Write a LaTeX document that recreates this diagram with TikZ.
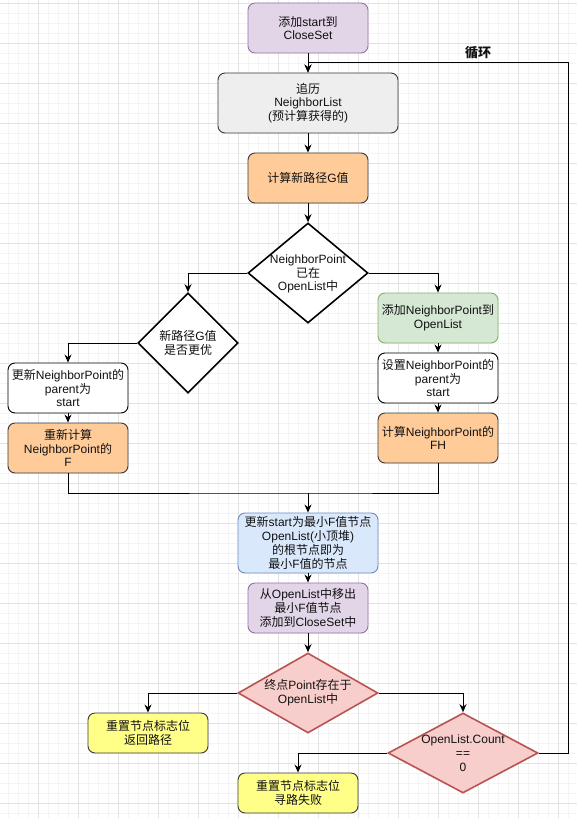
\documentclass[tikz,border=0pt]{standalone}
\usepackage{fontspec}
\setmainfont{Liberation Sans}
\newfontfamily\zh{Noto Sans CJK SC}
\usetikzlibrary{shapes.geometric,arrows.meta}
\newcommand{\z}[1]{{\zh #1}}
\definecolor{purF}{HTML}{E1D5E7}\definecolor{purS}{HTML}{9673A6}
\definecolor{grF}{HTML}{EEEEEE}\definecolor{darkS}{HTML}{36393D}
\definecolor{orF}{HTML}{FFCC99}
\definecolor{gnF}{HTML}{D5E8D4}\definecolor{gnS}{HTML}{82B366}
\definecolor{blF}{HTML}{DAE8FC}\definecolor{blS}{HTML}{6C8EBF}
\definecolor{rdF}{HTML}{F8CECC}\definecolor{rdS}{HTML}{B85450}
\definecolor{ylF}{HTML}{FFFF88}
\definecolor{gridMaj}{HTML}{E2E2E2}\definecolor{gridMin}{HTML}{F4F4F4}
\definecolor{txt}{HTML}{111111}
\begin{document}
\begin{tikzpicture}[x=1pt,y=-1pt,
  every node/.style={text=txt},
  tx/.style={align=center,font=\fontsize{12}{13.8}\selectfont,inner sep=0pt},
  box/.style={draw,rounded corners=7pt,minimum width=120pt,minimum height=50pt,inner sep=0pt,align=center,font=\fontsize{12}{13.8}\selectfont,line width=0.9pt},
  wbox/.style={box,fill=white,draw=black},
  purbox/.style={box,fill=purF,draw=purS},
  grbox/.style={box,fill=grF,draw=darkS},
  orbox/.style={box,fill=orF,draw=darkS},
  gnbox/.style={box,fill=gnF,draw=gnS},
  blbox/.style={box,fill=blF,draw=blS},
  ylbox/.style={box,fill=ylF,draw=darkS},
  dia/.style={diamond,draw=black,fill=white,inner sep=0pt,line width=1.6pt},
  rdia/.style={dia,fill=rdF,draw=rdS},
  conn/.style={line width=1pt,-{Stealth[length=8pt,width=7pt]}},
  plain/.style={line width=1pt}]
\useasboundingbox (0,0) rectangle (577,818);
\begin{scope}
\clip (0,0) rectangle (577,818);
\fill[white] (0,0) rectangle (577,818);
\foreach \i in {0,...,58} {
  \draw[gridMin,line width=0.8pt] (-1.7+10*\i,0) -- (-1.7+10*\i,818);
}
\foreach \i in {0,...,82} {
  \draw[gridMin,line width=0.8pt] (0,3.3+10*\i) -- (577,3.3+10*\i);
}
\foreach \i in {0,...,14} {
  \draw[gridMaj,line width=0.8pt] (-1.7+40*\i,0) -- (-1.7+40*\i,818);
}
\foreach \i in {0,...,20} {
  \draw[gridMaj,line width=0.8pt] (0,3.3+40*\i) -- (577,3.3+40*\i);
}
\end{scope}

% nodes
\node[purbox] (b1) at (308,28) {\z{添加}start\z{到}\\CloseSet};
\node[grbox,minimum width=180pt,minimum height=60pt] (b2) at (308,103) {\z{追历}\\NeighborList\\(\z{预计算获得的})};
\node[orbox] (b3) at (308,178) {\z{计算新路径}G\z{值}};
\node[dia,minimum width=120pt,minimum height=100pt] (d1) at (308,273) {};
\node[tx] (d1t) at (308,274) {NeighborPoint\\\z{已在}\\OpenList\z{中}};
\node[dia,minimum width=100pt,minimum height=100pt] (d2) at (188,343) {};
\node[tx] (d2t) at (188,343) {\z{新路径}G\z{值}\\\z{是否更优}};
\node[wbox] (b6) at (68,388) {\z{更新}NeighborPoint\z{的}\\parent\z{为}\\start};
\node[orbox] (b7) at (68,448) {\z{重新计算}\\NeighborPoint\z{的}\\F};
\node[gnbox] (b8) at (438,318) {\z{添加}NeighborPoint\z{到}\\OpenList};
\node[wbox] (b9) at (438,378) {\z{设置}NeighborPoint\z{的}\\parent\z{为}\\start};
\node[orbox] (b10) at (438,438) {\z{计算}NeighborPoint\z{的}\\FH};
\node[blbox,minimum width=140pt,minimum height=60pt] (b11) at (308,543) {\z{更新}start\z{为最小}F\z{值节点}\\OpenList(\z{小顶堆})\\\z{的根节点即为}\\\z{最小}F\z{值的节点}};
\node[purbox] (b12) at (308,608) {\z{从}OpenList\z{中移出}\\\z{最小}F\z{值节点}\\\z{添加到}CloseSet\z{中}};
\node[rdia,minimum width=140pt,minimum height=80pt] (d3) at (308,693) {};
\node[tx] (d3t) at (308,693) {\z{终点}Point\z{存在于}\\OpenList\z{中}};
\node[ylbox,minimum height=40pt] (b14) at (148,733) {\z{重置节点标志位}\\\z{返回路径}};
\node[rdia,minimum width=150pt,minimum height=80pt] (d4) at (463,753) {};
\node[tx] (d4t) at (463,753) {OpenList.Count\\==\\0};
\node[ylbox,minimum height=40pt] (b16) at (298,793) {\z{重置节点标志位}\\\z{寻路失败}};
\node[font={\zh\bfseries\fontsize{13}{15}\selectfont}] (loopl) at (478,53) {循环};

\coordinate (lr) at (568,63);
\coordinate (j) at (308,493);

% connectors
\draw[conn] (b1.south) -- (b2.north);
\draw[conn] (b2.south) -- (b3.north);
\draw[conn] (b3.south) -- (d1.north);
\draw[conn] (d1.west) -| (d2.north);
\draw[conn] (d2.west) -| (b6.north);
\draw[conn] (b6.south) -- (b7.north);
\draw[conn] (d1.east) -| (b8.north);
\draw[conn] (b8.south) -- (b9.north);
\draw[conn] (b9.south) -- (b10.north);
\draw[plain] (b7.south) |- (j) -| (b10.south);
\draw[conn] (j) -- (b11.north);
\draw[conn] (b11.south) -- (b12.north);
\draw[conn] (b12.south) -- (d3.north);
\draw[conn] (d3.west) -| (b14.north);
\draw[conn] (d3.east) -| (d4.north);
\draw[conn] (d4.west) -| (b16.north);
\draw[conn] (d4.east) -| (lr) -- (lr -| b2.north) -- (b2.north);
\end{tikzpicture}
\end{document}
